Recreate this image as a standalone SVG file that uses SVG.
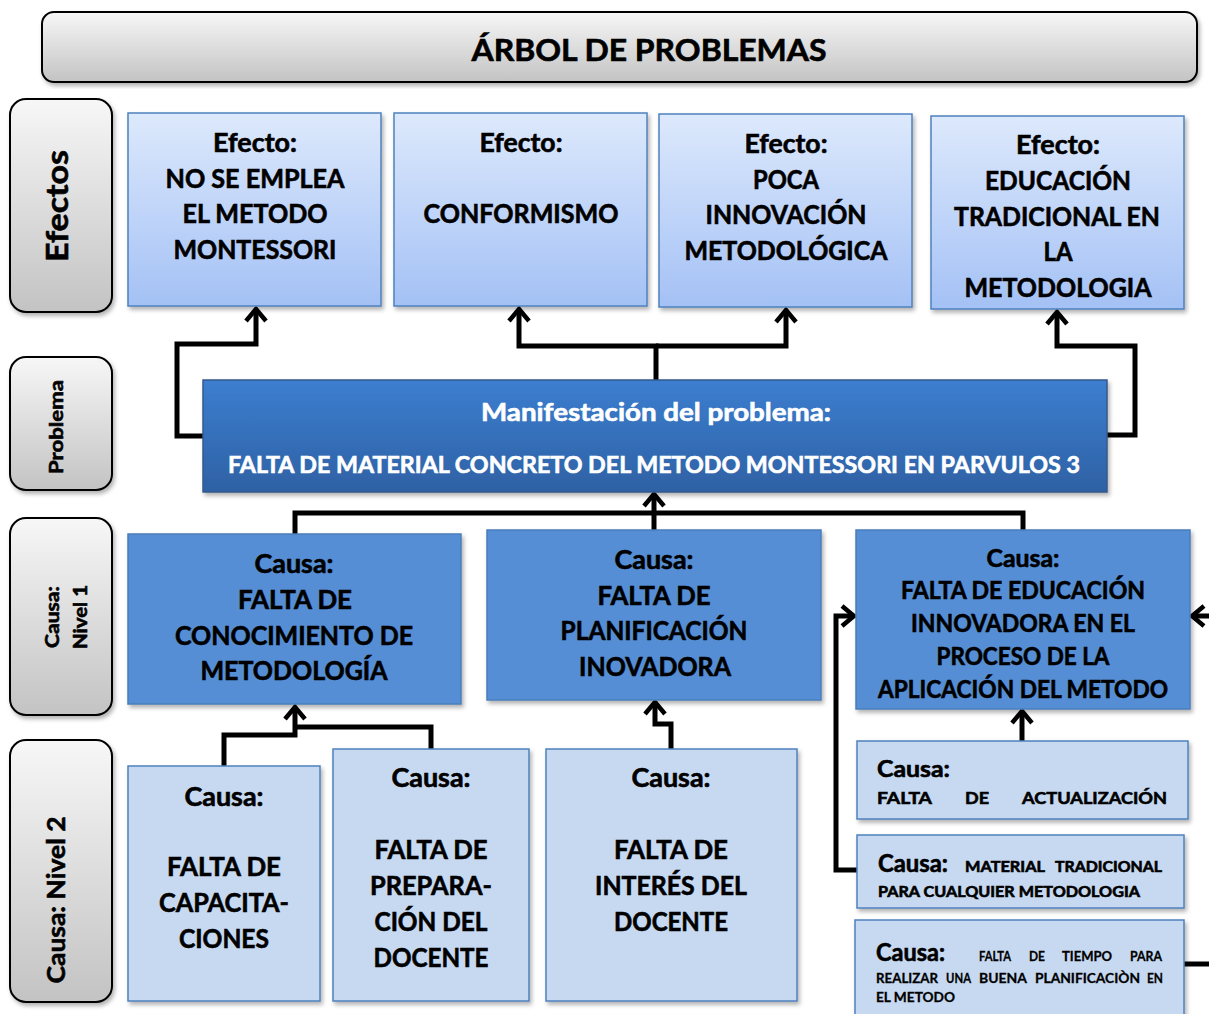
<svg xmlns="http://www.w3.org/2000/svg" width="1209" height="1014" viewBox="0 0 1209 1014">
<defs>
<linearGradient id="gGray" x1="0" y1="0" x2="0" y2="1"><stop offset="0" stop-color="#f7f7f7"/><stop offset="1" stop-color="#c3c3c3"/></linearGradient>
<linearGradient id="gEff" x1="0" y1="0" x2="0" y2="1"><stop offset="0" stop-color="#dde9fc"/><stop offset="1" stop-color="#a4c1f5"/></linearGradient>
<linearGradient id="gProb" x1="0" y1="0" x2="0" y2="1"><stop offset="0" stop-color="#3c7ed0"/><stop offset="1" stop-color="#2e61a4"/></linearGradient>
<filter id="sh" x="-5%" y="-5%" width="112%" height="115%"><feDropShadow dx="2" dy="3" stdDeviation="2" flood-color="#000" flood-opacity="0.3"/></filter>
<marker id="arr" viewBox="-16 -14 22 28" refX="0" refY="0" markerWidth="22" markerHeight="28" markerUnits="userSpaceOnUse" orient="auto"><path d="M-12,-10 L0,0 L-12,10" fill="none" stroke="#000" stroke-width="4.5"/></marker>
</defs>
<style>
text{font-family:"Lato","Open Sans","Liberation Sans",sans-serif;font-weight:bold;fill:#000;stroke:#000;stroke-width:0.6;}
.c{text-anchor:middle;}
.w{fill:#fff;stroke:#fff;}
.side{fill:url(#gGray);stroke:#000;stroke-width:2;}
.eff{fill:url(#gEff);stroke:#4f81bd;stroke-width:1.5;filter:url(#sh);}
.l1{fill:#558ed5;stroke:#4a7ebb;stroke-width:1.5;filter:url(#sh);}
.l2{fill:#c6d9f1;stroke:#4f81bd;stroke-width:1.5;filter:url(#sh);}
.t26{font-size:26px;}
.s14{font-size:14px;stroke-width:0.3;}
.cn{fill:none;stroke:#000;stroke-width:5;stroke-linejoin:miter;}
</style>
<rect width="1209" height="1014" fill="#fff"/>

<g id="title">
<rect x="42" y="12" width="1155" height="70" rx="12" class="side" filter="url(#sh)"/>
<text x="649" y="61" class="c" font-size="30" textLength="355" lengthAdjust="spacingAndGlyphs">ÁRBOL DE PROBLEMAS</text>
</g>

<g id="lbl-efectos">
<rect x="10" y="99" width="102" height="213" rx="16" class="side" filter="url(#sh)"/>
<text transform="translate(68,206) rotate(-90)" class="c" font-size="31" textLength="112" lengthAdjust="spacingAndGlyphs">Efectos</text>
</g>
<g id="lbl-problema">
<rect x="10" y="357" width="102" height="133" rx="16" class="side" filter="url(#sh)"/>
<text transform="translate(63,427) rotate(-90)" class="c" font-size="19" textLength="94" lengthAdjust="spacingAndGlyphs">Problema</text>
</g>
<g id="lbl-nivel1">
<rect x="10" y="518" width="102" height="197" rx="16" class="side" filter="url(#sh)"/>
<text transform="translate(59,617) rotate(-90)" class="c" font-size="19" textLength="62" lengthAdjust="spacingAndGlyphs">Causa:</text>
<text transform="translate(87,617) rotate(-90)" class="c" font-size="19" textLength="64" lengthAdjust="spacingAndGlyphs">Nivel 1</text>
</g>
<g id="lbl-nivel2">
<rect x="10" y="740" width="102" height="262" rx="16" class="side" filter="url(#sh)"/>
<text transform="translate(65,900) rotate(-90)" class="c" font-size="25" textLength="167" lengthAdjust="spacingAndGlyphs">Causa: Nivel 2</text>
</g>

<g id="connectors">
<path class="cn" d="M203,436 H177 V344 H256 V309" marker-end="url(#arr)"/>
<path class="cn" d="M656,380 V346 H519 V309" marker-end="url(#arr)"/>
<path class="cn" d="M656,346 H786 V310" marker-end="url(#arr)"/>
<path class="cn" d="M1107,435 H1135 V346 H1057 V312" marker-end="url(#arr)"/>
<path class="cn" d="M295,534 V513 H1023 V530"/>
<path class="cn" d="M654,530 V494" marker-end="url(#arr)"/>
<path class="cn" d="M224,766 V735 H295 V707" marker-end="url(#arr)"/>
<path class="cn" d="M431,749 V727 H295"/>
<path class="cn" d="M671,749 V724 H655 V702" marker-end="url(#arr)"/>
<path class="cn" d="M1022,741 V711" marker-end="url(#arr)"/>
<path class="cn" d="M857,870 H836 V616 H854" marker-end="url(#arr)"/>
<path class="cn" d="M1184,964 H1212"/>
<path class="cn" d="M1214,616 H1192" marker-end="url(#arr)"/>
</g>

<g id="efecto1">
<rect x="128" y="113" width="253" height="193" class="eff"/>
<text class="c t26" x="255" y="152" textLength="84" lengthAdjust="spacingAndGlyphs">Efecto:</text>
<text class="c t26" x="255" y="188" textLength="179" lengthAdjust="spacingAndGlyphs">NO SE EMPLEA</text>
<text class="c t26" x="255" y="223" textLength="145" lengthAdjust="spacingAndGlyphs">EL METODO</text>
<text class="c t26" x="255" y="259" textLength="163" lengthAdjust="spacingAndGlyphs">MONTESSORI</text>
</g>
<g id="efecto2">
<rect x="394" y="113" width="253" height="193" class="eff"/>
<text class="c t26" x="521" y="152" textLength="83" lengthAdjust="spacingAndGlyphs">Efecto:</text>
<text class="c t26" x="521" y="223" textLength="195" lengthAdjust="spacingAndGlyphs">CONFORMISMO</text>
</g>
<g id="efecto3">
<rect x="659" y="114" width="253" height="193" class="eff"/>
<text class="c t26" x="786" y="153" textLength="83" lengthAdjust="spacingAndGlyphs">Efecto:</text>
<text class="c t26" x="786" y="189" textLength="66" lengthAdjust="spacingAndGlyphs">POCA</text>
<text class="c t26" x="786" y="224" textLength="161" lengthAdjust="spacingAndGlyphs">INNOVACIÓN</text>
<text class="c t26" x="786" y="260" textLength="203" lengthAdjust="spacingAndGlyphs">METODOLÓGICA</text>
</g>
<g id="efecto4">
<rect x="931" y="116" width="253" height="193" class="eff"/>
<text class="c t26" x="1058" y="154" textLength="84" lengthAdjust="spacingAndGlyphs">Efecto:</text>
<text class="c t26" x="1058" y="190" textLength="146" lengthAdjust="spacingAndGlyphs">EDUCACIÓN</text>
<text class="c t26" x="1057" y="226" textLength="206" lengthAdjust="spacingAndGlyphs">TRADICIONAL EN</text>
<text class="c t26" x="1058" y="261" textLength="29" lengthAdjust="spacingAndGlyphs">LA</text>
<text class="c t26" x="1058" y="297" textLength="187" lengthAdjust="spacingAndGlyphs">METODOLOGIA</text>
</g>

<g id="problema">
<rect x="203" y="380" width="904" height="112" fill="url(#gProb)" stroke="#34598a" stroke-width="1.5" filter="url(#sh)"/>
<text class="c w" x="656" y="421" font-size="24" textLength="350" lengthAdjust="spacingAndGlyphs">Manifestación del problema:</text>
<text class="c w" x="654" y="473" font-size="22" textLength="852" lengthAdjust="spacingAndGlyphs">FALTA DE MATERIAL CONCRETO DEL METODO MONTESSORI EN PARVULOS 3</text>
</g>

<g id="causa1a">
<rect x="128" y="534" width="333" height="170" class="l1"/>
<text class="c t26" x="294" y="573" textLength="79" lengthAdjust="spacingAndGlyphs">Causa:</text>
<text class="c t26" x="295" y="609" textLength="114" lengthAdjust="spacingAndGlyphs">FALTA DE</text>
<text class="c t26" x="294" y="645" textLength="238" lengthAdjust="spacingAndGlyphs">CONOCIMIENTO DE</text>
<text class="c t26" x="294" y="680" textLength="187" lengthAdjust="spacingAndGlyphs">METODOLOGÍA</text>
</g>
<g id="causa1b">
<rect x="487" y="530" width="334" height="170" class="l1"/>
<text class="c t26" x="654" y="569" textLength="79" lengthAdjust="spacingAndGlyphs">Causa:</text>
<text class="c t26" x="654" y="605" textLength="113" lengthAdjust="spacingAndGlyphs">FALTA DE</text>
<text class="c t26" x="654" y="640" textLength="187" lengthAdjust="spacingAndGlyphs">PLANIFICACIÓN</text>
<text class="c t26" x="655" y="676" textLength="152" lengthAdjust="spacingAndGlyphs">INOVADORA</text>
</g>
<g id="causa1c">
<rect x="856" y="530" width="334" height="179" class="l1"/>
<text class="c" x="1023" y="567" font-size="24" textLength="73" lengthAdjust="spacingAndGlyphs">Causa:</text>
<text class="c" x="1023" y="599" font-size="24" textLength="244" lengthAdjust="spacingAndGlyphs">FALTA DE EDUCACIÓN</text>
<text class="c" x="1023" y="632" font-size="24" textLength="224" lengthAdjust="spacingAndGlyphs">INNOVADORA EN EL</text>
<text class="c" x="1023" y="665" font-size="24" textLength="173" lengthAdjust="spacingAndGlyphs">PROCESO DE LA</text>
<text class="c" x="1023" y="698" font-size="24" textLength="290" lengthAdjust="spacingAndGlyphs">APLICACIÓN DEL METODO</text>
</g>

<g id="causa2a">
<rect x="128" y="766" width="192" height="235" class="l2"/>
<text class="c t26" x="224" y="806" textLength="79" lengthAdjust="spacingAndGlyphs">Causa:</text>
<text class="c t26" x="224" y="876" textLength="114" lengthAdjust="spacingAndGlyphs">FALTA DE</text>
<text class="c t26" x="224" y="912" textLength="130" lengthAdjust="spacingAndGlyphs">CAPACITA-</text>
<text class="c t26" x="224" y="948" textLength="90" lengthAdjust="spacingAndGlyphs">CIONES</text>
</g>
<g id="causa2b">
<rect x="333" y="749" width="196" height="252" class="l2"/>
<text class="c t26" x="431" y="787" textLength="79" lengthAdjust="spacingAndGlyphs">Causa:</text>
<text class="c t26" x="431" y="859" textLength="113" lengthAdjust="spacingAndGlyphs">FALTA DE</text>
<text class="c t26" x="431" y="895" textLength="122" lengthAdjust="spacingAndGlyphs">PREPARA-</text>
<text class="c t26" x="431" y="931" textLength="113" lengthAdjust="spacingAndGlyphs">CIÓN DEL</text>
<text class="c t26" x="431" y="967" textLength="115" lengthAdjust="spacingAndGlyphs">DOCENTE</text>
</g>
<g id="causa2c">
<rect x="546" y="749" width="251" height="252" class="l2"/>
<text class="c t26" x="671" y="787" textLength="79" lengthAdjust="spacingAndGlyphs">Causa:</text>
<text class="c t26" x="671" y="859" textLength="114" lengthAdjust="spacingAndGlyphs">FALTA DE</text>
<text class="c t26" x="671" y="895" textLength="152" lengthAdjust="spacingAndGlyphs">INTERÉS DEL</text>
<text class="c t26" x="671" y="931" textLength="114" lengthAdjust="spacingAndGlyphs">DOCENTE</text>
</g>
<g id="causa2d">
<rect x="857" y="741" width="331" height="78" class="l2"/>
<text x="877" y="777" font-size="22" textLength="73" lengthAdjust="spacingAndGlyphs">Causa:</text>
<text x="877" y="804" font-size="17" textLength="55" lengthAdjust="spacingAndGlyphs">FALTA</text>
<text x="965" y="804" font-size="17" textLength="24" lengthAdjust="spacingAndGlyphs">DE</text>
<text x="1022" y="804" font-size="17" textLength="145" lengthAdjust="spacingAndGlyphs">ACTUALIZACIÓN</text>
</g>
<g id="causa2e">
<rect x="857" y="835" width="327" height="73" class="l2"/>
<text x="878" y="872" font-size="24" textLength="70" lengthAdjust="spacingAndGlyphs">Causa:</text>
<text x="965" y="872" font-size="15" textLength="80" lengthAdjust="spacingAndGlyphs">MATERIAL</text>
<text x="1055" y="872" font-size="15" textLength="107" lengthAdjust="spacingAndGlyphs">TRADICIONAL</text>
<text x="878" y="897" font-size="15" textLength="262" lengthAdjust="spacingAndGlyphs">PARA CUALQUIER METODOLOGIA</text>
</g>
<g id="causa2f">
<rect x="855" y="920" width="329" height="100" class="l2"/>
<text x="876" y="961" font-size="24" textLength="69" lengthAdjust="spacingAndGlyphs">Causa:</text>
<text class="s14" x="979" y="961" textLength="32" lengthAdjust="spacingAndGlyphs">FALTA</text>
<text class="s14" x="1029" y="961" textLength="16" lengthAdjust="spacingAndGlyphs">DE</text>
<text class="s14" x="1062" y="961" textLength="50" lengthAdjust="spacingAndGlyphs">TIEMPO</text>
<text class="s14" x="1130" y="961" textLength="32" lengthAdjust="spacingAndGlyphs">PARA</text>
<text class="s14" x="876" y="983" textLength="62" lengthAdjust="spacingAndGlyphs">REALIZAR</text>
<text class="s14" x="946" y="983" textLength="25" lengthAdjust="spacingAndGlyphs">UNA</text>
<text class="s14" x="979" y="983" textLength="48" lengthAdjust="spacingAndGlyphs">BUENA</text>
<text class="s14" x="1035" y="983" textLength="105" lengthAdjust="spacingAndGlyphs">PLANIFICACIÒN</text>
<text class="s14" x="1147" y="983" textLength="16" lengthAdjust="spacingAndGlyphs">EN</text>
<text class="s14" x="876" y="1002" textLength="79" lengthAdjust="spacingAndGlyphs">EL METODO</text>
</g>
</svg>
